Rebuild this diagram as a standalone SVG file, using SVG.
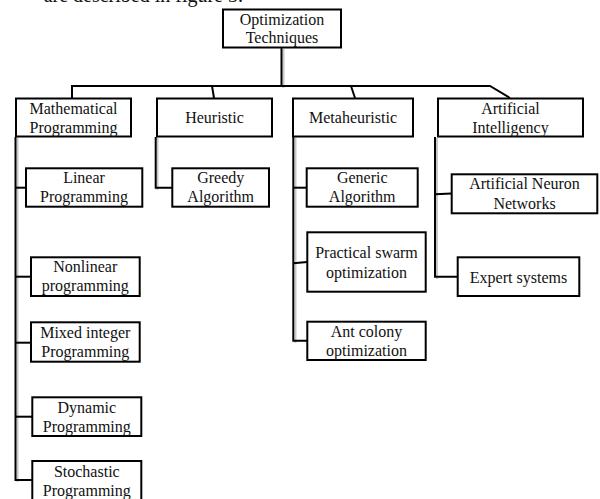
<svg xmlns="http://www.w3.org/2000/svg" width="600" height="499" viewBox="0 0 600 499">
<style>
.box{fill:#fff;stroke:#000;stroke-width:2}
.t{font-family:"Liberation Serif","Times New Roman",serif;font-size:16px;fill:#111;text-anchor:middle}
.c{fill:none;stroke:#000;stroke-width:2;stroke-linejoin:miter}
.sh{fill:none;stroke:#c8c8c8;stroke-width:2}
</style>
<rect width="600" height="499" fill="#fff"/>
<text x="243" y="2" style="font-family:'Liberation Serif',serif;font-size:20px;fill:#111;text-anchor:end">are described in figure 3.</text>
<g id="connectors">
<g class="sh">
<path d="M283.5 49V88"/>
<path d="M17.5 138V482"/>
<path d="M157.5 138V190"/>
<path d="M295.5 138V343"/>
<path d="M437 138V279"/>
</g>
<path class="c" d="M281.5 48V86"/>
<path class="c" d="M72 98V86H490L510 98"/>
<path class="c" d="M212 86L214 98"/>
<path class="c" d="M351 86L355 98"/>
<path class="c" d="M15.5 137V480H32.3"/>
<path class="c" d="M15.5 187.7H26"/>
<path class="c" d="M15.5 276.7H31"/>
<path class="c" d="M15.5 342.7H31"/>
<path class="c" d="M15.5 416.7H32.3"/>
<path class="c" d="M155.7 137V187.7H172.3"/>
<path class="c" d="M293.3 137V340.7H307.3"/>
<path class="c" d="M293.3 187.7H306.7"/>
<path class="c" d="M293.3 263.3L307.3 262"/>
<path class="c" d="M435 137V276.7H457.7"/>
<path class="c" d="M435 194.3L451.7 193.5"/>
</g>
<g id="root"><rect class="box" x="223" y="9.5" width="118" height="38"/><text class="t" x="282" y="24.5">Optimization</text><text class="t" x="282" y="43">Techniques</text></g>
<g id="math"><rect class="box" x="16" y="98.5" width="115" height="38"/><text class="t" x="73.5" y="114">Mathematical</text><text class="t" x="73.5" y="132.5">Programming</text></g>
<g id="heuristic"><rect class="box" x="157" y="98.5" width="115" height="38"/><text class="t" x="214.5" y="123">Heuristic</text></g>
<g id="meta"><rect class="box" x="293" y="98.5" width="120" height="38"/><text class="t" x="353" y="123">Metaheuristic</text></g>
<g id="ai"><rect class="box" x="438" y="98.5" width="145" height="38"/><text class="t" x="510.5" y="114">Artificial</text><text class="t" x="510.5" y="132.5">Intelligency</text></g>
<g id="linear"><rect class="box" x="26" y="168.3" width="116.3" height="38.4"/><text class="t" x="84" y="183.3">Linear</text><text class="t" x="84" y="202.3">Programming</text></g>
<g id="nonlinear"><rect class="box" x="31" y="257.3" width="108.7" height="38.7"/><text class="t" x="85.3" y="272.3">Nonlinear</text><text class="t" x="85.3" y="291.3">programming</text></g>
<g id="mixed"><rect class="box" x="31" y="322.3" width="108.7" height="39.4"/><text class="t" x="85.3" y="338">Mixed integer</text><text class="t" x="85.3" y="357">Programming</text></g>
<g id="dynamic"><rect class="box" x="32.3" y="397.3" width="109" height="38.7"/><text class="t" x="86.8" y="412.5">Dynamic</text><text class="t" x="86.8" y="431.5">Programming</text></g>
<g id="stochastic"><rect class="box" x="32.3" y="461" width="109" height="45"/><text class="t" x="86.8" y="476.5">Stochastic</text><text class="t" x="86.8" y="495.5">Programming</text></g>
<g id="greedy"><rect class="box" x="172.3" y="168.3" width="96.7" height="38.4"/><text class="t" x="220.7" y="183.3">Greedy</text><text class="t" x="220.7" y="202.3">Algorithm</text></g>
<g id="generic"><rect class="box" x="306.7" y="168.3" width="111" height="38.4"/><text class="t" x="362.2" y="183.3">Generic</text><text class="t" x="362.2" y="202.3">Algorithm</text></g>
<g id="pso"><rect class="box" x="307.3" y="232.3" width="118.4" height="59.4"/><text class="t" x="366.5" y="257.7">Practical swarm</text><text class="t" x="366.5" y="277.7">optimization</text></g>
<g id="ant"><rect class="box" x="307.3" y="321.7" width="118.4" height="38.3"/><text class="t" x="366.5" y="337">Ant colony</text><text class="t" x="366.5" y="356">optimization</text></g>
<g id="ann"><rect class="box" x="451.7" y="174.3" width="145.6" height="39"/><text class="t" x="524.5" y="189.3">Artificial Neuron</text><text class="t" x="524.5" y="208.8">Networks</text></g>
<g id="expert"><rect class="box" x="457.7" y="257.3" width="121.6" height="38.7"/><text class="t" x="518.5" y="282.5">Expert systems</text></g>
</svg>
